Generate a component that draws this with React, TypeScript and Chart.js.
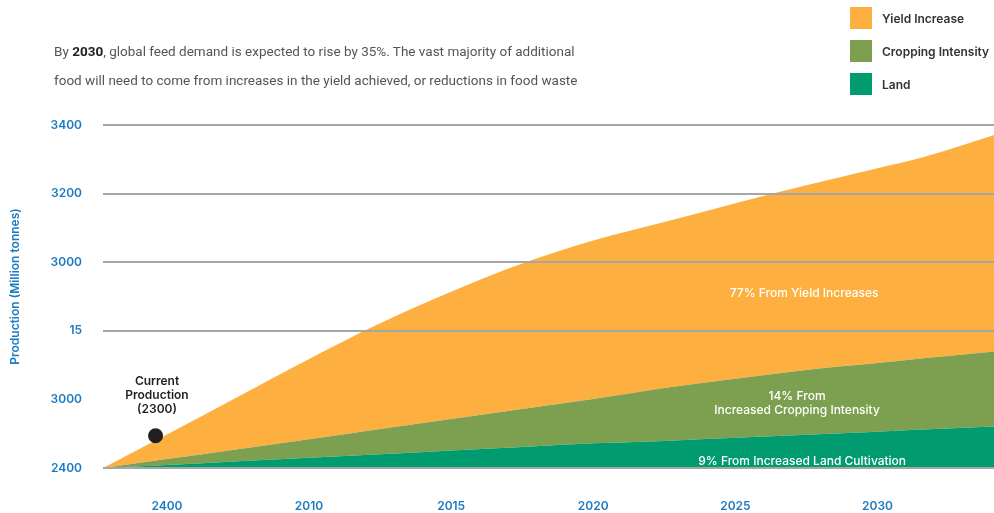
import { useEffect, useRef } from 'react';
import { Chart, registerables } from 'chart.js';

Chart.register(...registerables);

// ---- data ----
const YEARS = [2002.75, 2005, 2007.5, 2010, 2012.5, 2015, 2017.5, 2020, 2022.5, 2025, 2027.5, 2030, 2031.6, 2034.1];
const BASELINE = [2400, 2399, 2398, 2397, 2396, 2395, 2394, 2393, 2392, 2392, 2391, 2391, 2390, 2390];
const LAND_TOP = [2400, 2409, 2420, 2430, 2440, 2451, 2461, 2472, 2479, 2488, 2497, 2506, 2512, 2521];
const CROPPING_TOP = [2400, 2426, 2455, 2484, 2514, 2543, 2572, 2601, 2633, 2660, 2686, 2706, 2720, 2740];
const YIELD_TOP = [2400, 2498, 2608, 2718, 2822, 2914, 2996, 3063, 3117, 3172, 3224, 3274, 3306, 3371];
const CURRENT_PRODUCTION = { year: 2004.6, value: 2494 };

const X_TICK_VALUES = [2005, 2010, 2015, 2020, 2025, 2030];
const X_TICK_LABELS = ['2400', '2010', '2015', '2020', '2025', '2030'];
const Y_TICK_LABELS = ['2400', '3000', '15', '3000', '3200', '3400'];
const Y_HIDDEN_GRID = [2600];
const Y_TITLE = 'Production (Million tonnes)';

const SERIES_NAMES = ['Yield Increase', 'Cropping Intensity', 'Land'];
const SERIES_COLORS = ['#FDB040', '#7DA050', '#009B6F'];

const AREA_LABELS = [
  { lines: ['77% From Yield Increases'], year: 2027.42, value: 2908, color: '#ffffff', font: '500 12px Inter' },
  { lines: ['14% From', 'Increased Cropping Intensity'], year: 2027.17, value: 2587, color: '#ffffff', font: '500 12px Inter' },
  { lines: ['9% From Increased Land Cultivation'], year: 2027.35, value: 2419, color: '#ffffff', font: '500 12px Inter' },
  { lines: ['Current', 'Production', '(2300)'], year: 2004.65, value: 2613, color: '#231f20', font: '600 12px Inter' },
];

const BLUE = '#1B7BC2';
const GRID = '#A6A6A6';

const toPoints = (arr: number[]) => YEARS.map((x, i) => ({ x, y: arr[i] }));

const areaLabelPlugin = {
  id: 'areaLabels',
  afterDatasetsDraw(chart: any) {
    const { ctx, scales } = chart;
    ctx.save();
    ctx.textAlign = 'center';
    ctx.textBaseline = 'middle';
    AREA_LABELS.forEach((l) => {
      const px = scales.x.getPixelForValue(l.year);
      const py = scales.y.getPixelForValue(l.value);
      ctx.font = l.font;
      ctx.fillStyle = l.color;
      const lh = 14;
      const start = py - ((l.lines.length - 1) * lh) / 2;
      l.lines.forEach((t, i) => ctx.fillText(t, px, start + i * lh));
    });
    ctx.restore();
  },
};

const yTitlePlugin = {
  id: 'yTitle',
  afterDraw(chart: any) {
    const { ctx, chartArea } = chart;
    ctx.save();
    ctx.translate(15, (chartArea.top + chartArea.bottom) / 2 - 10);
    ctx.rotate(-Math.PI / 2);
    ctx.font = '600 12px Inter';
    ctx.fillStyle = BLUE;
    ctx.textAlign = 'center';
    ctx.textBaseline = 'middle';
    ctx.fillText(Y_TITLE, 0, 0);
    ctx.restore();
  },
};

export default function App() {
  const ref = useRef<HTMLCanvasElement | null>(null);

  useEffect(() => {
    document.body.style.margin = '0';
    document.body.style.overflow = 'hidden';
    const canvas = ref.current;
    if (!canvas) return;
    const chart = new Chart(canvas, {
      type: 'line',
      data: {
        datasets: [
          {
            label: 'baseline',
            data: toPoints(BASELINE),
            borderWidth: 0,
            pointRadius: 0,
            fill: false,
            clip: 10,
          } as any,
          {
            label: SERIES_NAMES[2],
            data: toPoints(LAND_TOP),
            borderWidth: 0,
            pointRadius: 0,
            backgroundColor: SERIES_COLORS[2],
            fill: '-1',
            cubicInterpolationMode: 'monotone',
            clip: 10,
          },
          {
            label: SERIES_NAMES[1],
            data: toPoints(CROPPING_TOP),
            borderWidth: 0,
            pointRadius: 0,
            backgroundColor: SERIES_COLORS[1],
            fill: '-1',
            cubicInterpolationMode: 'monotone',
            clip: 10,
          },
          {
            label: SERIES_NAMES[0],
            data: toPoints(YIELD_TOP),
            borderWidth: 0,
            pointRadius: 0,
            backgroundColor: SERIES_COLORS[0],
            fill: '-1',
            cubicInterpolationMode: 'monotone',
            clip: 10,
          },
          {
            type: 'scatter',
            label: 'Current Production',
            data: [{ x: CURRENT_PRODUCTION.year, y: CURRENT_PRODUCTION.value }],
            pointRadius: 7.5,
            pointBackgroundColor: '#231f20',
            pointBorderWidth: 0,
            order: -1,
          } as any,
        ],
      },
      options: {
        responsive: false,
        devicePixelRatio: 1,
        animation: false,
        layout: { autoPadding: false, padding: { top: 125, right: 0, bottom: 0, left: 0 } },
        plugins: {
          legend: { display: false },
          tooltip: { enabled: false },
          title: { display: false },
        },
        scales: {
          x: {
            type: 'linear',
            min: 2002.75,
            max: 2034.1,
            grid: { display: false },
            border: { display: false },
            afterBuildTicks: (scale: any) => {
              scale.ticks = X_TICK_VALUES.map((v) => ({ value: v }));
            },
            afterFit: (scale: any) => {
              scale.height = 45;
              scale.paddingLeft = 0;
              scale.paddingRight = 0;
            },
            ticks: {
              autoSkip: false,
              maxRotation: 0,
              padding: 23,
              color: BLUE,
              font: { family: 'Inter', size: 12, weight: '600' },
              callback: (_v: any, i: number) => X_TICK_LABELS[i],
            },
          },
          y: {
            type: 'linear',
            min: 2400,
            max: 3400,
            border: { display: false },
            grid: {
              z: 1,
              drawTicks: false,
              lineWidth: 2,
              color: (c: any) => (c.tick && Y_HIDDEN_GRID.includes(c.tick.value) ? 'rgba(0,0,0,0)' : GRID),
            },
            afterFit: (scale: any) => {
              scale.width = 103;
            },
            ticks: {
              stepSize: 200,
              padding: 21,
              color: BLUE,
              font: { family: 'Inter', size: 12, weight: '600' },
              callback: (_v: any, i: number) => Y_TICK_LABELS[i],
            },
          },
        },
      } as any,
      plugins: [areaLabelPlugin, yTitlePlugin],
    });
    return () => chart.destroy();
  }, []);

  return (
    <div style={{ position: 'absolute', left: 0, top: 0, width: 994, height: 513, background: '#fff' }}>
      <canvas ref={ref} width={994} height={513} style={{ display: 'block', width: 994, height: 513 }} />
      <div
        style={{
          position: 'absolute',
          left: 54,
          top: 37,
          fontFamily: 'Roboto, sans-serif',
          fontSize: 13.5,
          lineHeight: '29px',
          color: '#555',
          whiteSpace: 'nowrap',
        }}
      >
        By <b style={{ color: '#222', fontWeight: 700 }}>2030</b>, global feed demand is expected to rise by 35%. The vast
        majority of additional
        <br />
        food will need to come from increases in the yield achieved, or reductions in food waste
      </div>
      {SERIES_NAMES.map((name, i) => (
        <div key={name} style={{ position: 'absolute', left: 850, top: 7 + i * 33, height: 22, display: 'flex', alignItems: 'center' }}>
          <div style={{ width: 22, height: 22, background: SERIES_COLORS[i] }} />
          <span
            style={{
              marginLeft: 10,
              fontFamily: 'Inter, sans-serif',
              fontWeight: 600,
              fontSize: 12,
              color: '#333',
              whiteSpace: 'nowrap',
            }}
          >
            {name}
          </span>
        </div>
      ))}
    </div>
  );
}
